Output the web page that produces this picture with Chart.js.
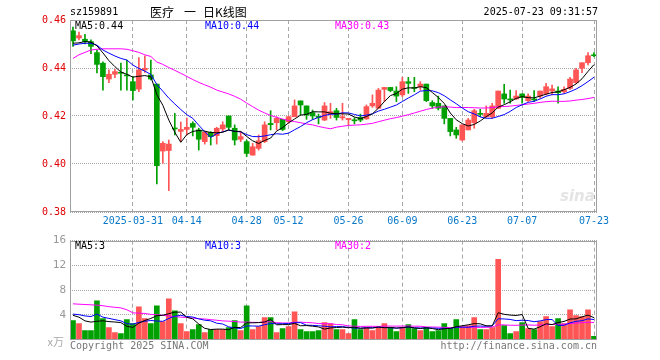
<!DOCTYPE html>
<html>
<head>
<meta charset="utf-8">
<script src="https://cdn.jsdelivr.net/npm/chart.js"></script>
<style>
body { margin: 0; background: #fff; }
#wrap { position: relative; width: 660px; height: 360px; font-family: 'DejaVu Sans Mono', monospace; font-size: 10px; }
#wrap div { position: absolute; white-space: nowrap; line-height: 12px; }
#wrap .cjk { font-family: 'Noto Sans CJK SC'; font-size: 12px; line-height: 16px; top: 4px; color: #000; }
canvas { position: absolute; left: 0; }
</style>
</head>
<body>
<div id="wrap">
  <canvas id="kChart" width="660" height="230" style="top:0"></canvas>
  <canvas id="volChart" width="660" height="120" style="top:230px"></canvas>

  <div style="left:70px;top:6px;color:#000">sz159891</div>
  <div class="cjk" style="left:150px">医疗</div>
  <div class="cjk" style="left:184px">一</div>
  <div class="cjk" style="left:203px">日K线图</div>
  <div style="right:62px;top:6px;color:#000">2025-07-23 09:31:57</div>

  <div style="left:75px;top:20px;color:#000">MA5:0.44</div>
  <div style="left:205px;top:20px;color:#0000ff">MA10:0.44</div>
  <div style="left:335px;top:20px;color:#ff00ff">MA30:0.43</div>

  <div style="left:75px;top:240px;color:#000">MA5:3</div>
  <div style="left:205px;top:240px;color:#0000ff">MA10:3</div>
  <div style="left:335px;top:240px;color:#ff00ff">MA30:2</div>

  <div style="right:596px;top:335px;color:#aaa;font-size:11px;font-family:'Noto Sans CJK SC'">x万</div>
  <div style="left:70px;top:340px;color:#777">Copyright 2025 SINA.COM</div>
  <div style="right:63px;top:340px;color:#777">http://finance.sina.com.cn</div>
  <div style="left:560px;top:188px;color:#e4e4e4;font-family:'DejaVu Sans';font-style:italic;font-weight:bold;font-size:15px;line-height:16px">sina</div>
</div>

<script>
// trading days shown on the chart
const dates = [
  '2025-03-17','2025-03-18','2025-03-19','2025-03-20','2025-03-21','2025-03-24','2025-03-25','2025-03-26','2025-03-27','2025-03-28','2025-03-31',
  '2025-04-01','2025-04-02','2025-04-03','2025-04-07','2025-04-08','2025-04-09','2025-04-10','2025-04-11','2025-04-14','2025-04-15','2025-04-16',
  '2025-04-17','2025-04-18','2025-04-21','2025-04-22','2025-04-23','2025-04-24','2025-04-25','2025-04-28','2025-04-29','2025-04-30',
  '2025-05-06','2025-05-07','2025-05-08','2025-05-09','2025-05-12','2025-05-13','2025-05-14','2025-05-15','2025-05-16','2025-05-19',
  '2025-05-20','2025-05-21','2025-05-22','2025-05-23','2025-05-26','2025-05-27','2025-05-28','2025-05-29','2025-05-30',
  '2025-06-03','2025-06-04','2025-06-05','2025-06-06','2025-06-09','2025-06-10','2025-06-11','2025-06-12','2025-06-13','2025-06-16',
  '2025-06-17','2025-06-18','2025-06-19','2025-06-20','2025-06-23','2025-06-24','2025-06-25','2025-06-26','2025-06-27','2025-06-30',
  '2025-07-01','2025-07-02','2025-07-03','2025-07-04','2025-07-07','2025-07-08','2025-07-09','2025-07-10','2025-07-11','2025-07-14',
  '2025-07-15','2025-07-16','2025-07-17','2025-07-18','2025-07-21','2025-07-22','2025-07-23'
]
const tickDates = ['2025-03-31','2025-04-14','2025-04-28','2025-05-12','2025-05-26','2025-06-09','2025-06-23','2025-07-07','2025-07-23']
const tickLabels = ['2025-03-31','04-14','04-28','05-12','05-26','06-09','06-23','07-07','07-23']

const opens = [
  0.4555,0.4525,0.4520,0.4510,0.4464,0.4420,0.4354,0.4374,0.4382,0.4371,0.4343,0.4312,0.4392,0.4371,0.4333,0.4054,0.4056,0.4149,0.4136,0.4144,
  0.4169,0.4142,0.4093,0.4132,0.4118,0.4146,0.4200,0.4149,0.4103,0.4093,0.4037,0.4065,0.4093,0.4169,0.4172,0.4186,0.4176,0.4197,0.4263,0.4242,
  0.4214,0.4197,0.4183,0.4208,0.4222,0.4192,0.4185,0.4183,0.4194,0.4188,0.4242,0.4232,0.4311,0.4319,0.4304,0.4288,0.4343,0.4318,0.4322,0.4333,
  0.4256,0.4253,0.4242,0.4190,0.4142,0.4100,0.4142,0.4172,0.4211,0.4197,0.4197,0.4232,0.4292,0.4271,0.4271,0.4292,0.4264,0.4271,0.4283,0.4292,
  0.4304,0.4304,0.4301,0.4315,0.4339,0.4399,0.4422,0.4454
]
const highs = [
  0.4570,0.4550,0.4540,0.4517,0.4475,0.4426,0.4392,0.4394,0.4420,0.4433,0.4364,0.4443,0.4451,0.4433,0.4333,0.4093,0.4100,0.4211,0.4175,0.4192,
  0.4176,0.4149,0.4135,0.4135,0.4153,0.4176,0.4200,0.4163,0.4135,0.4100,0.4086,0.4121,0.4176,0.4222,0.4197,0.4186,0.4200,0.4267,0.4263,0.4242,
  0.4225,0.4208,0.4256,0.4253,0.4232,0.4253,0.4190,0.4193,0.4208,0.4246,0.4288,0.4315,0.4319,0.4319,0.4322,0.4361,0.4361,0.4361,0.4343,0.4333,
  0.4264,0.4283,0.4242,0.4190,0.4153,0.4163,0.4190,0.4228,0.4228,0.4242,0.4253,0.4304,0.4332,0.4308,0.4306,0.4292,0.4292,0.4306,0.4304,0.4336,
  0.4329,0.4322,0.4322,0.4361,0.4399,0.4422,0.4464,0.4464
]
const lows = [
  0.4490,0.4517,0.4500,0.4460,0.4380,0.4308,0.4339,0.4360,0.4308,0.4308,0.4267,0.4301,0.4382,0.4350,0.3917,0.4003,0.3889,0.4121,0.4093,0.4121,
  0.4117,0.4058,0.4083,0.4079,0.4083,0.4135,0.4142,0.4079,0.4093,0.4031,0.4037,0.4058,0.4089,0.4142,0.4142,0.4139,0.4169,0.4197,0.4204,0.4186,
  0.4186,0.4167,0.4181,0.4190,0.4183,0.4183,0.4163,0.4167,0.4176,0.4186,0.4236,0.4232,0.4260,0.4301,0.4260,0.4281,0.4294,0.4301,0.4308,0.4260,
  0.4232,0.4225,0.4167,0.4117,0.4107,0.4096,0.4142,0.4149,0.4197,0.4194,0.4190,0.4232,0.4253,0.4253,0.4269,0.4253,0.4260,0.4260,0.4274,0.4288,
  0.4288,0.4253,0.4294,0.4311,0.4336,0.4381,0.4413,0.4447
]
const closes = [
  0.4513,0.4535,0.4510,0.4490,0.4415,0.4364,0.4374,0.4385,0.4378,0.4367,0.4306,0.4392,0.4399,0.4354,0.3993,0.4086,0.4083,0.4146,0.4144,0.4153,
  0.4153,0.4103,0.4132,0.4114,0.4149,0.4163,0.4153,0.4100,0.4114,0.4044,0.4072,0.4097,0.4163,0.4164,0.4190,0.4144,0.4197,0.4242,0.4246,0.4204,
  0.4200,0.4194,0.4242,0.4218,0.4194,0.4197,0.4190,0.4180,0.4183,0.4239,0.4253,0.4308,0.4319,0.4306,0.4283,0.4343,0.4336,0.4315,0.4333,0.4264,
  0.4242,0.4232,0.4190,0.4135,0.4121,0.4163,0.4183,0.4222,0.4207,0.4211,0.4242,0.4304,0.4271,0.4267,0.4283,0.4278,0.4283,0.4267,0.4304,0.4322,
  0.4313,0.4297,0.4311,0.4354,0.4392,0.4422,0.4451,0.4451
]
// volume in 万
const volumes = [
  3.04,2.56,1.44,1.44,6.24,3.36,1.92,1.12,0.96,3.20,2.56,5.28,3.36,2.56,5.44,2.88,6.56,4.64,2.56,1.28,
  1.60,2.40,1.12,1.60,1.60,1.60,1.92,3.04,1.44,5.44,1.60,2.08,3.52,3.52,1.12,1.76,2.08,4.48,1.60,1.28,
  1.28,1.44,2.72,2.56,1.60,1.60,0.96,3.20,1.60,1.92,1.44,1.92,2.56,1.92,1.28,1.92,2.40,1.76,1.44,1.92,
  1.28,1.44,2.56,1.76,3.20,2.08,2.24,3.52,1.60,1.60,1.92,12.96,2.24,0.96,1.28,2.72,1.76,1.60,2.88,3.68,
  2.08,3.36,2.56,4.80,3.84,3.68,4.80,0.48
]

// moving average values at the start of the window (no earlier data here)
const ma5Head = [0.4503,0.4505,0.4510,0.4508]
const ma10Head = [0.4495,0.4500,0.4503,0.4503,0.4495,0.4475,0.4462,0.4450,0.4440]
const ma30Head = [0.4440,0.4455,0.4465,0.4475,0.4478,0.4480,0.4480,0.4480,0.4480,0.4478,0.4472,0.4465,0.4455,0.4448,0.4425,
  0.4415,0.4402,0.4390,0.4378,0.4365,0.4352,0.4340,0.4330,0.4320,0.4308,0.4300,0.4292,0.4282,0.4270]
const volMa5Head = [3.9,3.6,3.0,2.8]
const volMa10Head = [4.1,4.0,3.8,3.7,4.1,3.6,3.4,3.2,3.0]
const volMa30Head = [5.76,5.70,5.65,5.60,5.55,5.45,5.30,5.20,5.10,4.80,4.30,4.25,4.20,4.05,4.00,
  3.90,3.80,3.70,3.60,3.55,3.45,3.35,3.30,3.20,3.10,3.00,2.95,2.90,2.80]

function movingAvg(src, n, head) {
  return src.map((v, i) => {
    if (i < n - 1) return head[i]
    let sum = 0
    for (let k = i - n + 1; k <= i; k++) sum += src[k]
    return sum / n
  })
}

const RED = '#ff5555'
const GREEN = '#00a000'
const candleColors = closes.map((c, i) => c >= opens[i] ? RED : GREEN)

Chart.defaults.font.family = "'DejaVu Sans Mono', monospace"
Chart.defaults.font.size = 10

// grey frame around the plot area
const boxPlugin = {
  id: 'box',
  afterDraw(chart) {
    const a = chart.chartArea
    const ctx = chart.ctx
    ctx.save()
    ctx.strokeStyle = '#a0a0a0'
    ctx.lineWidth = 1
    ctx.strokeRect(Math.round(a.left) + 0.5, Math.round(a.top) + 0.5,
      Math.round(a.right - a.left) - 1, Math.round(a.bottom - a.top) - 1)
    ctx.restore()
  }
}

function xAxis(showLabels) {
  return {
    offset: true,
    grid: {
      offset: false,
      drawTicks: false,
      color: c => tickDates.includes(dates[c.index]) ? '#a8a8a8' : 'transparent'
    },
    border: { display: false, dash: [4, 3] },
    ticks: {
      display: showLabels,
      autoSkip: false,
      maxRotation: 0,
      padding: 3,
      color: '#0a78c8',
      callback: (v, i) => {
        const k = tickDates.indexOf(dates[i])
        return k < 0 ? '' : tickLabels[k]
      }
    },
    afterFit: s => { s.height = showLabels ? 18 : 0 }
  }
}

function maLine(values, color) {
  return { type: 'line', data: values, borderColor: color, borderWidth: 1, pointRadius: 0, tension: 0, order: 1 }
}

// price chart
const kCtx = document.getElementById('kChart').getContext('2d')
new Chart(kCtx, {
  type: 'bar',
  data: {
    labels: dates,
    datasets: [
      maLine(movingAvg(closes, 5, ma5Head), '#000000'),
      maLine(movingAvg(closes, 10, ma10Head), '#0000ff'),
      maLine(movingAvg(closes, 30, ma30Head), '#ff00ff'),
      {
        type: 'bar',
        data: opens.map((o, i) => [o, closes[i]]),
        backgroundColor: candleColors,
        barThickness: 5,
        minBarLength: 1,
        grouped: false,
        order: 2
      },
      {
        type: 'bar',
        data: lows.map((l, i) => [l, highs[i]]),
        backgroundColor: candleColors,
        barThickness: 1,
        grouped: false,
        order: 3
      }
    ]
  },
  options: {
    responsive: false,
    animation: false,
    devicePixelRatio: 1,
    events: [],
    layout: { padding: { top: 20, right: 63, left: 0, bottom: 0 } },
    plugins: { legend: { display: false }, tooltip: { enabled: false } },
    scales: {
      x: xAxis(true),
      y: {
        min: 0.38,
        max: 0.46,
        ticks: { stepSize: 0.02, color: '#e00000', padding: 4, callback: v => v.toFixed(2) },
        grid: { drawTicks: false, color: '#a8a8a8' },
        border: { display: false, dash: [1, 1] },
        afterFit: s => { s.width = 70 }
      }
    }
  },
  plugins: [boxPlugin]
})

// volume chart
const volCtx = document.getElementById('volChart').getContext('2d')
new Chart(volCtx, {
  type: 'bar',
  data: {
    labels: dates,
    datasets: [
      maLine(movingAvg(volumes, 5, volMa5Head), '#000000'),
      maLine(movingAvg(volumes, 10, volMa10Head), '#0000ff'),
      maLine(movingAvg(volumes, 30, volMa30Head), '#ff00ff'),
      {
        type: 'bar',
        data: volumes,
        backgroundColor: candleColors,
        barThickness: 5,
        grouped: false,
        order: 2
      }
    ]
  },
  options: {
    responsive: false,
    animation: false,
    devicePixelRatio: 1,
    events: [],
    layout: { padding: { top: 10, right: 63, left: 0, bottom: 10 } },
    plugins: { legend: { display: false }, tooltip: { enabled: false } },
    scales: {
      x: xAxis(false),
      y: {
        min: 0,
        max: 16,
        ticks: { stepSize: 4, color: '#999999', padding: 4, font: { size: 11 }, callback: v => v === 0 ? '' : v },
        grid: { drawTicks: false, color: '#a8a8a8' },
        border: { display: false, dash: [1, 1] },
        afterFit: s => { s.width = 70 }
      }
    }
  },
  plugins: [boxPlugin]
})
</script>
</body>
</html>
